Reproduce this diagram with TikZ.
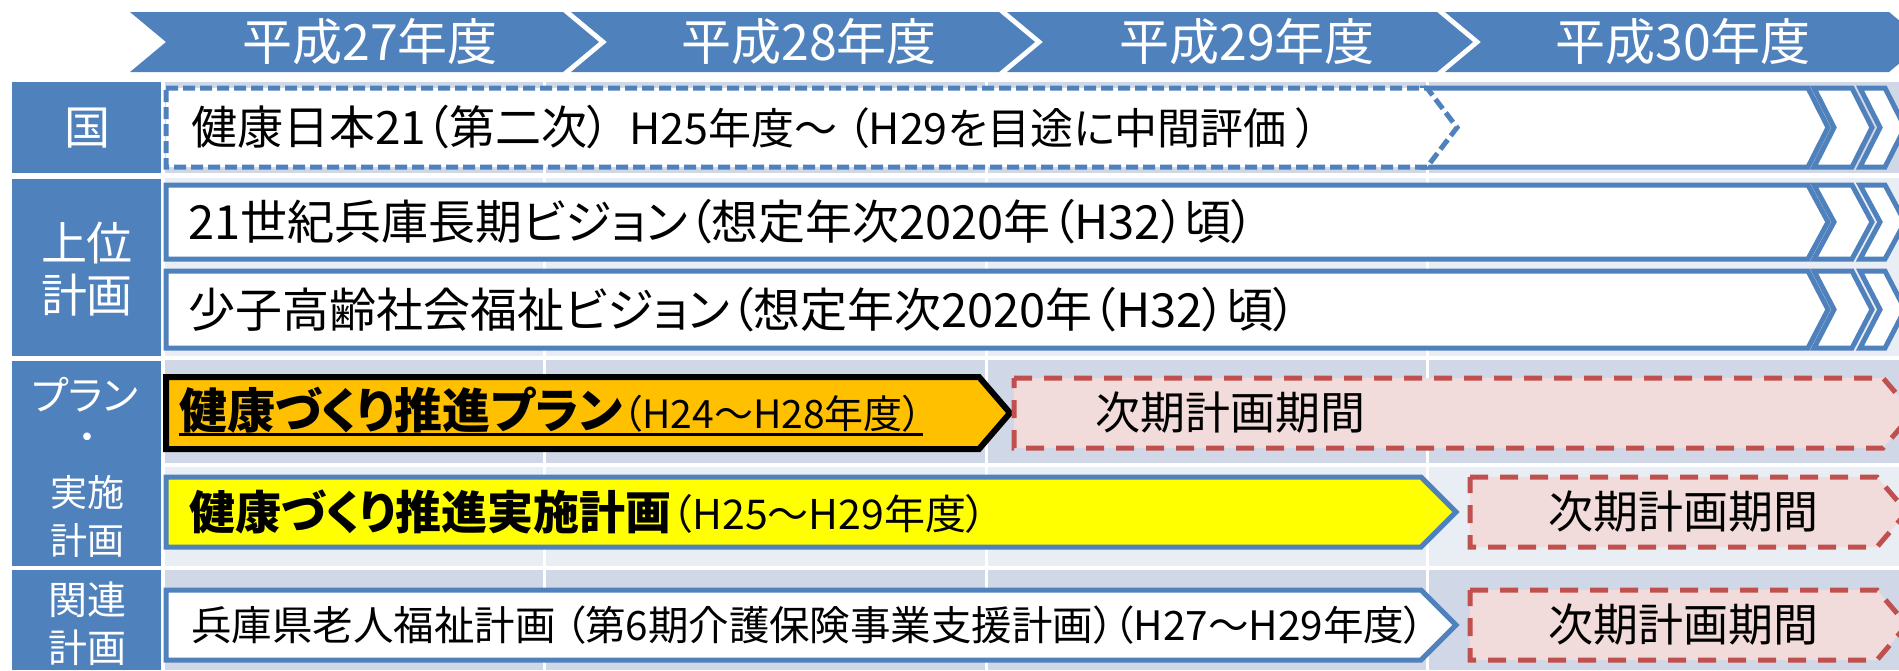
\documentclass[tikz,border=0pt]{standalone}
\usepackage{fontspec}
\newfontfamily\jp[RawFeature=+palt]{Noto Sans CJK JP}
\newcommand\jfs[1]{\fontsize{#1}{#1}\selectfont}
\definecolor{hblue}{HTML}{4F81BD}
\definecolor{banddark}{HTML}{D0D8E8}
\definecolor{bandlight}{HTML}{E9EDF4}
\definecolor{porange}{HTML}{FFC000}
\definecolor{pyellow}{HTML}{FFFF00}
\definecolor{pred}{HTML}{C0504D}
\definecolor{ppink}{HTML}{F2DCDB}
\tikzset{
  hdr/.style={fill=hblue},
  htext/.style={text=white, font=\jp\jfs{50}, inner sep=0},
  labbox/.style={fill=hblue},
  labtext/.style={text=white, inner sep=0, align=center},
  bar/.style={draw=hblue, line width=5pt, fill=white},
  dbar/.style={draw=hblue, line width=5pt, dash pattern=on 12pt off 5pt, fill=white},
  nextbar/.style={draw=pred, line width=5pt, dash pattern=on 18pt off 12pt, fill=ppink},
  txt/.style={inner sep=0, anchor=west, text=black},
  gridline/.style={draw=white, line width=3pt}
}
\begin{document}
\begin{tikzpicture}[x=1pt,y=-1pt]
\useasboundingbox (0,0) rectangle (1899,670);
\begin{scope}
\clip (0,0) rectangle (1899,670);
% header
\fill[hdr] (130,12) -- (563,12) -- (599,42) -- (563,72) -- (130,72) -- (166,42) -- cycle;
\fill[hdr] (571,12) -- (999,12) -- (1035,42) -- (999,72) -- (571,72) -- (607,42) -- cycle;
\fill[hdr] (1007,12) -- (1437,12) -- (1473,42) -- (1437,72) -- (1007,72) -- (1043,42) -- cycle;
\fill[hdr] (1445,12) -- (1889,12) -- (1925,42) -- (1889,72) -- (1445,72) -- (1481,42) -- cycle;
\node[htext] (h27) at (370,42) {平成27年度};
\node[htext] (h28) at (809,42) {平成28年度};
\node[htext] (h29) at (1247,42) {平成29年度};
\node[htext] (h30) at (1683,42) {平成30年度};
% bands
\fill[banddark] (165,82) rectangle (1899,173);
\fill[bandlight] (165,178) rectangle (1899,356);
\fill[banddark] (165,360) rectangle (1899,463);
\fill[bandlight] (165,467) rectangle (1899,566);
\fill[banddark] (165,570) rectangle (1899,670);
\foreach \gx in {544,986,1427} \draw[gridline] (\gx,82) -- (\gx,670);
% label column
\fill[labbox] (12,82) rectangle (161,173);
\fill[labbox] (12,179) rectangle (161,356);
\fill[labbox] (12,361) rectangle (161,566);
\fill[labbox] (12,570) rectangle (161,670);
\node[labtext, font=\jp\jfs{46}] (lkuni) at (87,128) {国};
\node[labtext, font=\jp\fontsize{46}{52}\selectfont] (ljoui) at (87,269) {上位\\計画};
\node[labtext, font=\jp\jfs{40}] (lplan) at (85,395) {プラン};
\node[labtext, font=\jp\jfs{36}] (ldot) at (87,442) {・};
\node[labtext, font=\jp\fontsize{37}{48}\selectfont] (ljissi) at (87,516) {実施\\計画};
\node[labtext, font=\jp\fontsize{39}{48}\selectfont] (lkanren) at (87,624) {関連\\計画};
% row kuni
\path[bar] (1420,88) -- (1808,88) -- (1828,127.5) -- (1808,167) -- (1420,167);
\path[dbar] (166,88) -- (1427,88) -- (1457,127.5) -- (1427,167) -- (166,167) -- cycle;
\path[bar] (1814,88) -- (1852,88) -- (1872,127.5) -- (1852,167) -- (1814,167) -- (1834,127.5) -- cycle;
\path[bar] (1860,88) -- (1885,88) -- (1905,127.5) -- (1885,167) -- (1860,167) -- (1880,127.5) -- cycle;
% row joui 1
\path[bar] (166,185) -- (1808,185) -- (1828,222) -- (1808,259) -- (166,259) -- cycle;
\path[bar] (1814,185) -- (1852,185) -- (1872,222) -- (1852,259) -- (1814,259) -- (1834,222) -- cycle;
\path[bar] (1860,185) -- (1885,185) -- (1905,222) -- (1885,259) -- (1860,259) -- (1880,222) -- cycle;
% row joui 2
\path[bar] (166,271) -- (1808,271) -- (1828,309.5) -- (1808,348) -- (166,348) -- cycle;
\path[bar] (1814,271) -- (1852,271) -- (1872,309.5) -- (1852,348) -- (1814,348) -- (1834,309.5) -- cycle;
\path[bar] (1860,271) -- (1885,271) -- (1905,309.5) -- (1885,348) -- (1860,348) -- (1880,309.5) -- cycle;
% plan row
\path[draw=black, line width=6pt, fill=porange] (166,377) -- (979,377) -- (1010,413) -- (979,449) -- (166,449) -- cycle;
\path[nextbar] (1014,378) -- (1883,378) -- (1913,413) -- (1883,448) -- (1014,448) -- cycle;
% jissi row
\path[bar, fill=pyellow] (166,477) -- (1421,477) -- (1456,512) -- (1421,547) -- (166,547) -- cycle;
\path[nextbar] (1470,477) -- (1877,477) -- (1907,512) -- (1877,547) -- (1470,547) -- cycle;
% kanren row
\path[bar] (166,590) -- (1421,590) -- (1456,625) -- (1421,660) -- (166,660) -- cycle;
\path[nextbar] (1470,590) -- (1877,590) -- (1907,625) -- (1877,660) -- (1470,660) -- cycle;
\end{scope}
% texts
\node[txt, font=\jp\jfs{46}] (tkuni) at (191,127) {健康日本21（第二次）{\jfs{43}\ \ H25年度～ （H29を目途に中間評価 ）}};
\node[txt, font=\jp\jfs{47}] (tvision) at (188,222) {21世紀兵庫長期ビジョン（想定年次2020年（H32）頃）};
\node[txt, font=\jp\jfs{47}] (tshoshi) at (188,309.5) {少子高齢社会福祉ビジョン（想定年次2020年（H32）頃）};
\node[txt, font=\jp\jfs{48}] (tplan) at (179,410) {\bfseries 健康づくり推進プラン{\mdseries\jfs{39}（H24～H28年度）}};
\draw[line width=2.5pt] ([yshift=-6pt]tplan.base west) -- ([yshift=-6pt]tplan.base east);
\node[txt, font=\jp\jfs{45}] (tnext1) at (1095,413) {次期計画期間};
\node[txt, font=\jp\jfs{46}] (tjissi) at (189,512) {\bfseries 健康づくり推進実施計画{\mdseries\jfs{41}（H25～H29年度）}};
\node[txt, font=\jp\jfs{45}] (tnext2) at (1548,512) {次期計画期間};
\node[txt, font=\jp\jfs{40.5}] (tkanren) at (191,625) {兵庫県老人福祉計画 （第6期介護保険事業支援計画）（H27～H29年度）};
\node[txt, font=\jp\jfs{45}] (tnext3) at (1548,625) {次期計画期間};
\end{tikzpicture}
\end{document}
